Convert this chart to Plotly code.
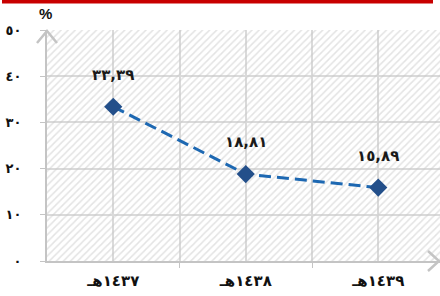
import plotly.graph_objects as go

categories = ["١٤٣٧هـ", "١٤٣٨هـ", "١٤٣٩هـ"]
values = [33.39, 18.81, 15.89]
value_labels = ["٣٣,٣٩", "١٨,٨١", "١٥,٨٩"]
y_tickvals = [0, 10, 20, 30, 40, 50]
y_ticktext = ["٠", "١٠", "٢٠", "٣٠", "٤٠", "٥٠"]

W, H = 440, 296
L, R, T, B = 47, 440, 30, 261
def px(x):
    return (x - L) / (R - L)
def py(y):
    return (B - y) / (B - T)

xidx = list(range(len(categories)))
x_lo, x_hi = -0.5, -0.5 + (R - L) / 132.5
y_lo, y_hi = y_tickvals[0], y_tickvals[-1]

fig = go.Figure()

# hatched background
fig.add_trace(go.Scatter(
    x=[x_lo, x_hi, x_hi, x_lo, x_lo], y=[y_lo, y_lo, y_hi, y_hi, y_lo],
    mode="lines", line=dict(width=0), fill="toself",
    fillcolor="rgba(0,0,0,0)",
    fillpattern=dict(shape="/", fgcolor="#c8c8c8", bgcolor="rgba(0,0,0,0)",
                     size=5, solidity=0.3),
    hoverinfo="skip", showlegend=False))

fig.add_trace(go.Scatter(
    x=xidx, y=values, mode="lines+markers",
    line=dict(color="#1d68b2", width=3, dash="12px,6px"),
    marker=dict(symbol="diamond", size=14, color="#234f8a"),
    showlegend=False))

for xi, v, t in zip(xidx, values, value_labels):
    fig.add_annotation(x=xi, y=v, text="<b>" + t + "</b>", showarrow=False,
                       yshift=32, font=dict(family="DejaVu Sans", size=15, color="#1a1a1a"))

fig.add_annotation(xref="paper", yref="paper", x=px(45), y=py(14), text="<b>%</b>",
                   xanchor="center", yanchor="middle",
                   showarrow=False, font=dict(family="Liberation Sans", size=15, color="#111"))

shapes = [
    dict(type="rect", xref="paper", yref="paper", x0=px(2), x1=px(433), y0=py(3.5), y1=py(-2),
         fillcolor="#c80000", line=dict(width=0)),
    # y axis arrow head
    dict(type="path", xref="paper", yref="paper",
         path=f"M {px(37)},{py(43)} L {px(47)},{py(31)} L {px(57)},{py(43)}",
         line=dict(color="#c4c4c4", width=2.5)),
    # x axis arrow head
    dict(type="path", xref="paper", yref="paper",
         path=f"M {px(428)},{py(251)} L {px(439)},{py(261)} L {px(428)},{py(271)}",
         line=dict(color="#c4c4c4", width=2.5)),
]

fig.update_layout(
    width=W, height=H, margin=dict(l=L, r=W - R, t=T, b=H - B, autoexpand=False),
    paper_bgcolor="white", plot_bgcolor="white",
    shapes=shapes,
    xaxis=dict(range=[x_lo, x_hi], tickvals=xidx, ticktext=["<b>" + c + "</b>" for c in categories],
               ticks="", showgrid=True, gridcolor="#dadada", gridwidth=2, automargin=False,
               showline=True, linecolor="#c4c4c4", linewidth=2, zeroline=False,
               tickfont=dict(family="DejaVu Sans", size=15, color="#111"),
               ticklabelstandoff=5,
               minor=dict(tickvals=[0.5, 1.5], ticks="outside", ticklen=5, tickcolor="#c4c4c4",
                          tickwidth=1, showgrid=True, gridcolor="#dadada", gridwidth=2)),
    yaxis=dict(range=[y_lo, y_hi], tickvals=y_tickvals, ticktext=["<b>" + t + "</b>" for t in y_ticktext],
               ticks="outside", ticklen=5, tickcolor="#c4c4c4", tickwidth=1, automargin=False,
               showgrid=True, gridcolor="#dadada", gridwidth=2,
               showline=True, linecolor="#c4c4c4", linewidth=2, zeroline=False,
               tickfont=dict(family="DejaVu Sans", size=13, color="#111"),
               ticklabelstandoff=16),
)

fig.write_html("out.html", config={"displayModeBar": False},
               post_script="document.body.style.margin='0';document.body.style.overflow='hidden';")
